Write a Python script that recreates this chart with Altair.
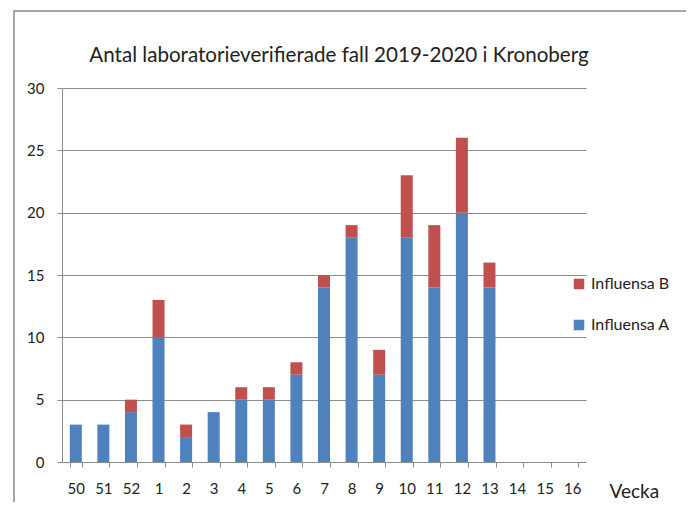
import altair as alt
import pandas as pd

title_text = "Antal laboratorieverifierade fall 2019-2020 i Kronoberg"
weeks = ["50", "51", "52", "1", "2", "3", "4", "5", "6", "7", "8", "9",
         "10", "11", "12", "13", "14", "15", "16"]
influensa_a = [3, 3, 4, 10, 2, 4, 5, 5, 7, 14, 18, 7, 18, 14, 20, 14, 0, 0, 0]
influensa_b = [0, 0, 1, 3, 1, 0, 1, 1, 1, 1, 1, 2, 5, 5, 6, 2, 0, 0, 0]
series = ["Influensa B", "Influensa A"]
colors = ["#C0504D", "#4F81BD"]

rows = []
for w, a, b in zip(weeks, influensa_a, influensa_b):
    rows.append({"Vecka": w, "Typ": "Influensa A", "Antal": a, "ord": 0})
    rows.append({"Vecka": w, "Typ": "Influensa B", "Antal": b, "ord": 1})
df = pd.DataFrame(rows)

FONT = "Lato"

bars = alt.Chart(df).mark_bar(size=12).encode(
    x=alt.X("Vecka:N", sort=weeks,
            scale=alt.Scale(paddingInner=0.56, paddingOuter=0.28),
            axis=alt.Axis(title="Vecka", labelAngle=0, tickBand="extent",
                          domainColor="#8c8c8c", tickColor="#8c8c8c",
                          tickSize=5, labelPadding=14, labelFontSize=15,
                          labelFont=FONT, labelColor="#222",
                          titleFont=FONT, titleFontSize=19, titleFontWeight="normal",
                          titleColor="#222", titleX=547, titleY=29,
                          titleAlign="left", titleBaseline="middle", grid=False)),
    y=alt.Y("Antal:Q", stack="zero",
            scale=alt.Scale(domain=[0, 30], nice=False),
            axis=alt.Axis(title=None, values=[0, 5, 10, 15, 20, 25, 30],
                          domainColor="#8c8c8c", tickColor="#8c8c8c",
                          gridColor="#8c8c8c", gridWidth=1, tickSize=5,
                          labelPadding=13, labelFontSize=15, labelFont=FONT,
                          labelColor="#222")),
    color=alt.Color("Typ:N", scale=alt.Scale(domain=series, range=colors),
                    legend=alt.Legend(title=None, orient="none", legendX=509,
                                      legendY=188, symbolType="square",
                                      symbolSize=110, symbolStrokeWidth=0,
                                      labelFont=FONT, labelFontSize=16,
                                      labelColor="#222", rowPadding=25,
                                      labelOffset=4)),
    order=alt.Order("ord:Q", sort="ascending"),
)

title = alt.Chart(alt.Data(values=[{"t": title_text}])).mark_text(
    font=FONT, fontSize=20.6, color="#222", align="center", baseline="alphabetic"
).encode(text="t:N", x=alt.value(277), y=alt.value(-26))

frame = alt.Chart(alt.Data(values=[{}])).mark_rect(
    filled=False, stroke="#8c8c8c", strokeWidth=1.5
).encode(
    x=alt.value(-48), x2=alt.value(628), y=alt.value(-77), y2=alt.value(470)
)

chart = alt.layer(bars, title, frame).properties(
    width=524, height=374,
    padding={"left": 54, "top": 80, "right": 100, "bottom": 40},
    autosize=alt.AutoSizeParams(type="none"),
).configure_view(stroke=None)

chart.save("out.html", embed_options={"renderer": "svg", "actions": False})
